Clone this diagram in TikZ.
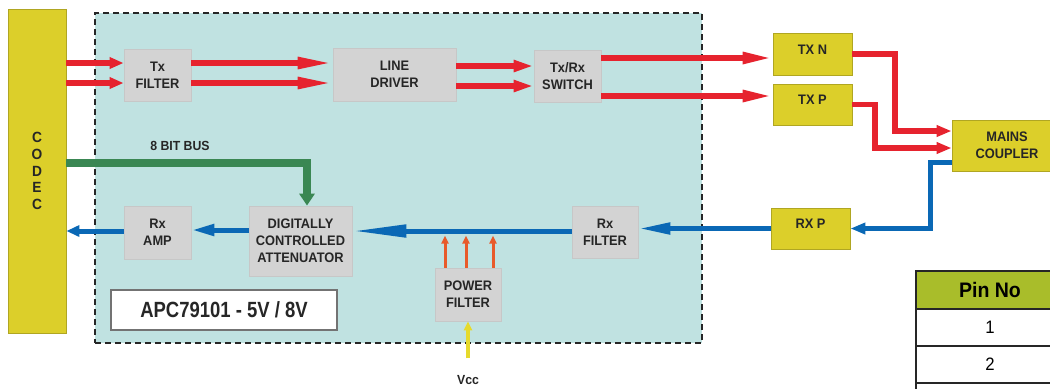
\documentclass[tikz,border=0pt]{standalone}
\usepackage{fontspec}
\setmainfont{Liberation Sans}[FakeStretch=0.93]
\newfontfamily\apcfont{Liberation Sans}[FakeStretch=0.84]
\usetikzlibrary{arrows.meta}
\definecolor{codecyel}{HTML}{DCCF2A}
\definecolor{chipteal}{HTML}{C0E2E1}
\definecolor{boxgray}{HTML}{D3D3D3}
\definecolor{sigred}{HTML}{E6232E}
\definecolor{sigblue}{HTML}{0A68B5}
\definecolor{busgreen}{HTML}{3A8753}
\definecolor{pwrorange}{HTML}{E85A2A}
\definecolor{vccyel}{HTML}{E6DA2C}
\definecolor{pingreen}{HTML}{A9BD2A}
\begin{document}
\begin{tikzpicture}[x=0.5pt,y=-0.5pt,
  blk/.style={fill=boxgray,draw=black!22,line width=0.4pt,inner sep=0pt,align=center,
    font=\bfseries\fontsize{6.9}{8.5}\selectfont,text=black!85},
  ylw/.style={blk,fill=codecyel,draw=codecyel!80!black},
  redarr/.style={draw=sigred,line width=2.8pt,-{Triangle[length=#1,width=5.5pt]}},
  redarr/.default=7pt,
  bluarr/.style={draw=sigblue,line width=2.5pt,-{Triangle[length=#1,width=5.5pt]}},
  bluarr/.default=7pt,
  tab/.style={draw=black!85,line width=0.8pt,minimum width=74pt,inner sep=0pt,
    font=\fontsize{9}{10}\selectfont}]
  \useasboundingbox (0,0) rectangle (1050,388);
  \clip (0,0) rectangle (1050,388);
  \node[fill=chipteal,draw=black!85,line width=1pt,dash pattern=on 3pt off 2pt,
    minimum width=303.5pt,minimum height=165pt] (chip) at (398.5,178) {};
  \node[ylw,minimum width=29pt,minimum height=162pt,
    font=\bfseries\fontsize{7.4}{8.3}\selectfont] (codec) at (37,171) {C\\O\\D\\E\\C};
  \node[blk,minimum width=33.5pt,minimum height=26pt] (txf) at (157.5,75) {Tx\\FILTER};
  \node[blk,minimum width=61.5pt,minimum height=26.5pt] (ldrv) at (394.5,74.5) {LINE\\DRIVER};
  \node[blk,minimum width=33.5pt,minimum height=26pt] (sw) at (567.5,76) {Tx/Rx\\SWITCH};
  \node[ylw,minimum width=39.5pt,minimum height=21pt,text height=5pt,text depth=5pt] (txn) at (812.5,54) {TX N};
  \node[ylw,minimum width=39.5pt,minimum height=20.5pt,text height=5pt,text depth=5pt] (txp) at (812.5,104.5) {TX P};
  \node[ylw,minimum width=55pt,minimum height=25.5pt] (mains) at (1007,145.5) {MAINS\\COUPLER};
  \node[ylw,minimum width=39.5pt,minimum height=20.5pt,text height=5pt,text depth=5pt] (rxp) at (810.5,228.5) {RX P};
  \node[blk,minimum width=33pt,minimum height=26pt] (rxf) at (605,232) {Rx\\FILTER};
  \node[blk,minimum width=51.5pt,minimum height=35pt] (dca) at (300.5,241) {DIGITALLY\\CONTROLLED\\ATTENUATOR};
  \node[blk,minimum width=33.5pt,minimum height=26.5pt] (rxa) at (157.5,232.5) {Rx\\AMP};
  \node[blk,minimum width=33pt,minimum height=26.5pt] (pwr) at (468,294.5) {POWER\\FILTER};
  \node[fill=white,draw=black!55,line width=0.6pt,minimum width=113pt,minimum height=20pt,
    font=\apcfont\bfseries\fontsize{11}{12}\selectfont,text=black!85] (apc) at (224,310) {APC79101 - 5V / 8V};
  \node[font=\bfseries\fontsize{6.6}{7}\selectfont,text=black!85] (bus) at (180,146) {8 BIT BUS};
  \node[font=\bfseries\fontsize{6.6}{7}\selectfont,text=black!85] (vcc) at (468,380) {Vcc};
  \node[tab,fill=pingreen,minimum height=19pt,font=\bfseries\fontsize{10.5}{11}\selectfont] (pinhd) at (990,290) {Pin No};
  \node[tab,fill=white,minimum height=18.5pt] (pin1) at (990,327.5) {1};
  \node[tab,fill=white,minimum height=18.5pt] (pin2) at (990,364.5) {2};
  \node[tab,fill=white,minimum height=18.5pt] (pin3) at (990,401.5) {};
  \draw[redarr] (codec.east |- 0,63) -- (txf.west |- 0,63);
  \draw[redarr] (codec.east |- 0,83) -- (txf.west |- 0,83);
  \draw[redarr=17.5pt] (txf.east |- 0,63) -- (ldrv.west |- 0,63);
  \draw[redarr=17.5pt] (txf.east |- 0,83) -- (ldrv.west |- 0,83);
  \draw[redarr=10pt] (ldrv.east |- 0,66) -- (sw.west |- 0,66);
  \draw[redarr=10pt] (ldrv.east |- 0,86) -- (sw.west |- 0,86);
  \draw[redarr=15pt] (sw.east |- 0,58) -- (txn.west |- 0,58);
  \draw[redarr=15pt] (sw.east |- 0,96) -- (txp.west |- 0,96);
  \draw[redarr=7.5pt] (txn.east) -- (895,54) |- (mains.west |- 0,131);
  \draw[redarr=7.5pt] (txp.east) -- (875,104.5) |- (mains.west |- 0,148);
  \draw[bluarr=7.5pt] (mains.west |- 0,162) -- (930,162) |- (rxp.east);
  \draw[bluarr=16pt] (rxp.west) -- (rxf.east |- rxp.west);
  \draw[bluarr=27pt,-{Triangle[length=27pt,width=6pt]}] (rxf.west |- 0,231) -- (dca.east |- 0,231);
  \draw[bluarr=11.5pt] (dca.west |- 0,230) -- (rxa.east |- 0,230);
  \draw[bluarr=6.5pt] (rxa.west |- 0,231) -- (codec.east |- 0,231);
  \draw[draw=busgreen,line width=4pt,-{Triangle[length=6pt,width=7.5pt]}]
    (codec.east |- 0,163) -| (dca.north -| 307,0);
  \foreach \px in {445,466,493}
    \draw[draw=pwrorange,line width=1.5pt,-{Triangle[length=4pt,width=3.5pt]}]
      (pwr.north -| \px,0) -- +(0,-32);
  \draw[draw=vccyel,line width=1.6pt,-{Triangle[length=4.5pt,width=4pt]},shorten <=5pt]
    (vcc.north) -- (pwr.south);
\end{tikzpicture}
\end{document}
